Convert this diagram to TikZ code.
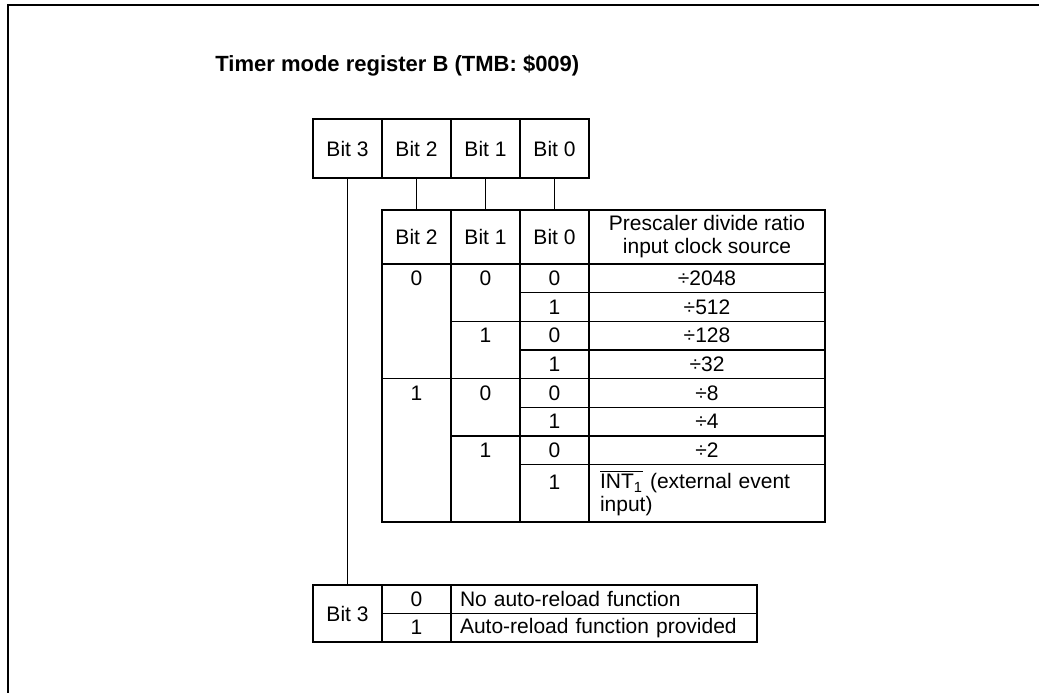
\documentclass[tikz,border=0pt]{standalone}
\usepackage{fontspec}
\setmainfont{Liberation Sans}
\usepackage{tikz}
\usetikzlibrary{positioning}

\begin{document}
\begin{tikzpicture}[
  x=0.5pt, y=-0.5pt,
  font=\fontsize{10.5}{11.5}\selectfont,
  cell/.style    = {draw, line width=0.6pt, inner sep=0pt, outer sep=0pt, minimum width=34.5pt, minimum height=14.33pt},
  bitbox/.style  = {cell, minimum height=29.5pt},
  head/.style    = {cell, minimum height=27pt},
  wide/.style    = {minimum width=118pt},
  outline/.style = {draw, line width=1.1pt},
  wire/.style    = {line width=0.6pt},
]
  \useasboundingbox (0,0) rectangle (1039,693);
  \draw[line width=1pt] (1039,5) -- (8,5) -- (8,693);

  \node[anchor=west, inner sep=0pt, font=\fontsize{11}{12}\selectfont\bfseries] (title) at (215,66) {Timer mode register B (TMB: \$009)};

  % register
  \node[bitbox]                     (r3) at (347.5,148.5) {Bit 3};
  \node[bitbox, right=0pt of r3]    (r2) {Bit 2};
  \node[bitbox, right=0pt of r2]    (r1) {Bit 1};
  \node[bitbox, right=0pt of r1]    (r0) {Bit 0};

  % prescaler table
  \node[head, below=16pt of r2]              (h2) {Bit 2};
  \node[head, right=0pt of h2]               (h1) {Bit 1};
  \node[head, right=0pt of h1, alias=b0-0]   (h0) {Bit 0};
  \node[head, wide, right=0pt of h0, align=center, alias=q-0] (hr) {Prescaler divide ratio\\input clock source};

  \foreach \b/\q [count=\i, evaluate=\i as \j using int(\i-1)] in {0/2048, 1/512, 0/128, 1/32, 0/8, 1/4, 0/2} {
    \node[cell, below=0pt of b0-\j]       (b0-\i) {\b};
    \node[cell, wide, below=0pt of q-\j]  (q-\i)  {÷\q};
  }
  \node[cell, minimum height=28.67pt, below=0pt of b0-7] (b0-8) {};
  \node[cell, wide, minimum height=28.67pt, below=0pt of q-7, inner xsep=5.5pt, text width=107pt, align=left] (q-8)
    {$\overline{\mbox{INT\textsubscript{1}}}$ (external event\\input)};
  \node (v0-8) at ([yshift=-9pt]b0-8.north) {1};

  \node[cell, minimum height=28.67pt, below=0pt of h1]   (b1-1) {};
  \node[cell, minimum height=28.67pt, below=0pt of b1-1] (b1-2) {};
  \node[cell, minimum height=28.67pt, below=0pt of b1-2] (b1-3) {};
  \node[cell, minimum height=43pt,    below=0pt of b1-3] (b1-4) {};
  \node[cell, minimum height=57.33pt, below=0pt of h2]   (b2-1) {};
  \node[cell, minimum height=71.67pt, below=0pt of b2-1] (b2-2) {};

  \node (v1-1) at (b1-1 |- b0-1) {0};
  \node (v1-2) at (b1-2 |- b0-3) {1};
  \node (v1-3) at (b1-3 |- b0-5) {0};
  \node (v1-4) at (b1-4 |- b0-7) {1};
  \node (v2-1) at (b2-1 |- b0-1) {0};
  \node (v2-2) at (b2-2 |- b0-5) {1};

  % reload table
  \node[cell, minimum height=28.5pt]                          (m3) at (347.5,613.5) {Bit 3};
  \node[cell, minimum height=14.25pt, anchor=north west]      (n0) at (m3.north east) {0};
  \node[cell, minimum height=14.25pt, below=0pt of n0]        (n1) {1};
  \node[cell, minimum height=14.25pt, right=0pt of n0, inner xsep=4.5pt, text width=144pt, align=left] (t0) {No auto-reload function};
  \node[cell, minimum height=14.25pt, right=0pt of n1, inner xsep=4.5pt, text width=144pt, align=left] (t1) {Auto-reload function provided};

  % outlines
  \draw[outline] (r3.north west) rectangle (r0.south east);
  \draw[outline] (h2.north west) rectangle (q-8.south east);
  \draw[outline] (h2.south west) -- (hr.south east);
  \draw[outline] (m3.north west) rectangle (t1.south east);

  % bit wires
  \draw[wire] (r2) -- (h2);
  \draw[wire] (r1) -- (h1);
  \draw[wire] (r0) -- (h0);
  \draw[wire] (r3) -- (m3);
\end{tikzpicture}
\end{document}
